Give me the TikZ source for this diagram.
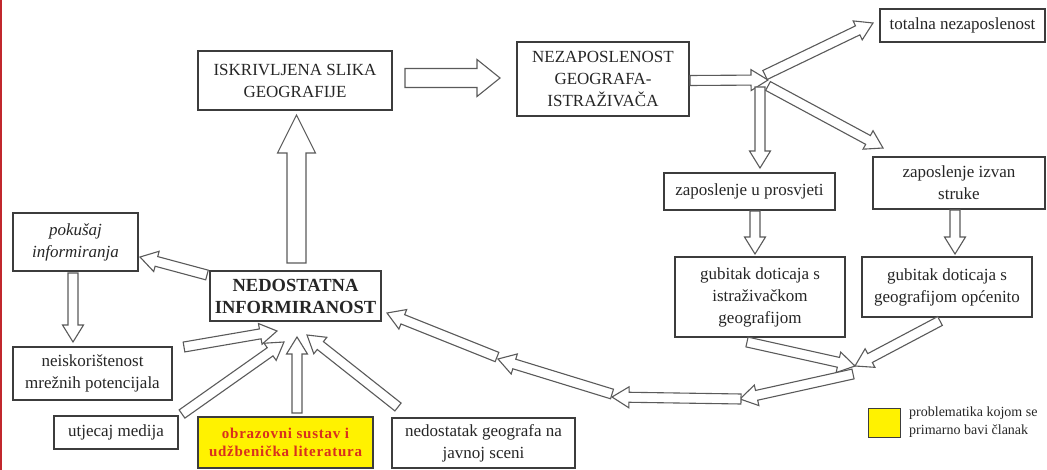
\documentclass[tikz,border=0pt]{standalone}
\usepackage{fontspec}
\setmainfont{Liberation Serif}
\newfontfamily\trackedbold[LetterSpace=5]{Liberation Serif}
\usetikzlibrary{calc,positioning}
\definecolor{diagramink}{HTML}{262626}
\definecolor{boxedge}{HTML}{3C3C3C}
\definecolor{arrowedge}{HTML}{5A5A5A}
\definecolor{highlight}{HTML}{FFF200}
\definecolor{highlighttext}{HTML}{D8301E}
\definecolor{marginred}{HTML}{C1272D}

\newcommand{\mainsize}{\fontsize{17}{22}\selectfont}
\newcommand{\titlesize}{\fontsize{18.5}{22}\selectfont}
\newcommand{\highsize}{\fontsize{15}{18}\selectfont}
\newcommand{\legendsize}{\fontsize{14}{18}\selectfont}

%% šuplja strelica: rep, vrh, pola debljine, pola širine vrha, duljina vrha
\newcommand{\hollowarrow}[5]{%
  \coordinate (ha-tail) at #1;
  \coordinate (ha-tip) at #2;
  \coordinate (ha-neck) at ($(ha-tip)!#5!(ha-tail)$);
  \draw[arrowline] ($(ha-tail)!#3!90:(ha-tip)$) -- ($(ha-neck)!#3!90:(ha-tip)$)
    -- ($(ha-neck)!#4!90:(ha-tip)$) -- (ha-tip) -- ($(ha-neck)!#4!-90:(ha-tip)$)
    -- ($(ha-neck)!#3!-90:(ha-tip)$) -- ($(ha-tail)!#3!-90:(ha-tip)$) -- cycle;
}
\newcommand{\thinarrow}[2]{\hollowarrow{#1}{#2}{5pt}{10.5pt}{17pt}}

\begin{document}
\begin{tikzpicture}[x=1pt, y=-1pt,
                    every node/.style={text=diagramink},
                    box/.style={draw=boxedge, line width=1.3pt, fill=white, align=center,
                                inner sep=2pt, outer sep=0pt, font=\mainsize},
                    arrowline/.style={draw=arrowedge, line width=1.1pt, fill=white}]

  \useasboundingbox (0,0) rectangle (1047,470);
  \fill[marginred] (0,0) rectangle (2,470);

  %% gornji red
  \node[box, minimum width=194pt, minimum height=59pt] (iskr) at (295,80.5) {ISKRIVLJENA SLIKA\\GEOGRAFIJE};
  \node[box, minimum width=172pt, minimum height=74pt] (nezap) at (603,79) {NEZAPOSLENOST\\GEOGRAFA-\\ISTRAŽIVAČA};
  \node[box, minimum width=165pt, minimum height=33pt] (total) at (962.5,25.5) {totalna nezaposlenost};

  %% grane zaposlenja
  \node[box, minimum width=171pt, minimum height=37pt] (prosv) at (749.5,191.5) {zaposlenje u prosvjeti};
  \node[box, minimum width=172pt, minimum height=52pt] (izvan) at (959,183) {zaposlenje izvan\\struke};
  \node[box, minimum width=170pt, minimum height=80pt] (gubist) at (760,297) {gubitak doticaja s\\istraživačkom\\geografijom};
  \node[box, minimum width=170pt, minimum height=60pt] (guboce) at (947,287) {gubitak doticaja s\\geografijom općenito};

  %% lijeva strana
  \node[box, minimum width=125pt, minimum height=58pt, font=\mainsize\itshape] (pokus) at (75.5,242) {pokušaj\\informiranja};
  \node[box, minimum width=171pt, minimum height=50pt, font=\titlesize\bfseries] (nedos) at (295.5,296) {NEDOSTATNA\\INFORMIRANOST};
  \node[box, minimum width=159pt, minimum height=53pt] (neisk) at (92.5,373.5) {neiskorištenost\\mrežnih potencijala};
  \node[box, minimum width=124pt, minimum height=33pt] (utjec) at (116,432.5) {utjecaj medija};
  \node[box, fill=highlight, minimum width=175pt, minimum height=51pt, text=highlighttext,
        font=\trackedbold\highsize\bfseries] (obraz) at (285.5,442.5) {obrazovni sustav i\\udžbenička literatura};
  \node[box, minimum width=183pt, minimum height=50pt] (nedgeo) at (483.5,443) {nedostatak geografa na\\javnoj sceni};

  %% legenda
  \node[draw=boxedge, line width=1pt, fill=highlight, minimum width=32pt, minimum height=29pt,
        inner sep=0pt, outer sep=0pt] (legkey) at (884,422.5) {};
  \node[right=9pt of legkey, align=left, inner sep=0pt, font=\legendsize] (legtext) {problematika kojom se\\primarno bavi članak};

  %% debele strelice
  \hollowarrow{($(nedos.north)+(1,-8)$)}{($(iskr.south)+(1.5,5)$)}{9.5pt}{19pt}{38pt}
  \hollowarrow{($(iskr.east)+(13,-2.5)$)}{($(nezap.west)+(-17,-1)$)}{9.5pt}{18.5pt}{23pt}

  %% grananje nezaposlenosti
  \coordinate (branch) at (768,80);
  \thinarrow{($(nezap.east)+(1,1.5)$)}{(branch)}
  \thinarrow{($(branch)+(-3,-5)$)}{($(total.west)+(-7,-2.5)$)}
  \thinarrow{($(branch)+(0,6)$)}{($(izvan.north west)+(10,-9)$)}
  \thinarrow{($(branch)+(-8,7)$)}{($(prosv.north)+(10.5,-5)$)}
  \thinarrow{($(prosv.south)+(5.5,1)$)}{($(gubist.north)+(-5,-3)$)}
  \thinarrow{($(izvan.south)+(-4,1)$)}{($(guboce.north)+(8,-3)$)}

  %% povratak prema nedostatnoj informiranosti
  \coordinate (conv) at (855,366);
  \coordinate (bendA) at (740,399);
  \coordinate (bendB) at (612,397);
  \coordinate (bendC) at (498,359);
  \thinarrow{($(gubist.south)+(-13,5)$)}{(conv)}
  \thinarrow{($(guboce.south)+(-7,4)$)}{(conv)}
  \thinarrow{($(conv)+(-2,8)$)}{(bendA)}
  \thinarrow{($(bendA)+(1,0)$)}{(bendB)}
  \thinarrow{($(bendB)+(0,-3)$)}{(bendC)}
  \thinarrow{($(bendC)+(-1,-2)$)}{($(nedos.south east)+(6,-8)$)}

  %% lijeva strana i uzroci
  \thinarrow{($(nedos.north west)+(-3,4)$)}{($(pokus.south east)+(2,-14)$)}
  \thinarrow{($(pokus.south)+(-2.5,2)$)}{($(neisk.north)+(-19.5,-5)$)}
  \thinarrow{($(neisk.north east)+(12,0)$)}{($(nedos.south)+(-18.5,10)$)}
  \thinarrow{($(utjec.north east)+(4,-2)$)}{($(nedos.south)+(-11.5,21)$)}
  \thinarrow{($(obraz.north)+(11.5,-4)$)}{($(nedos.south)+(1.5,16)$)}
  \thinarrow{($(nedgeo.north west)+(6,-11)$)}{($(nedos.south)+(11.5,14)$)}

\end{tikzpicture}
\end{document}
